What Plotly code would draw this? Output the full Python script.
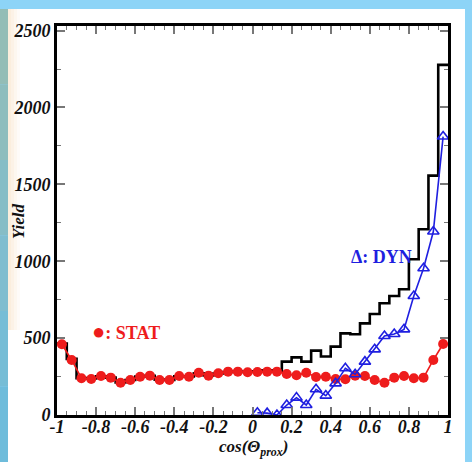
import plotly.graph_objects as go

# ---- data ----
bin_left = [-1.0, -0.95, -0.9, -0.85, -0.8, -0.75, -0.7, -0.65, -0.6, -0.55,
            -0.5, -0.45, -0.4, -0.35, -0.3, -0.25, -0.2, -0.15, -0.1, -0.05,
            0.0, 0.05, 0.1, 0.15, 0.2, 0.25, 0.3, 0.35, 0.4, 0.45,
            0.5, 0.55, 0.6, 0.65, 0.7, 0.75, 0.8, 0.85, 0.9, 0.95]
bin_right_edge = 1.0
bin_center = [-0.975, -0.925, -0.875, -0.825, -0.775, -0.725, -0.675, -0.625, -0.575, -0.525,
              -0.475, -0.425, -0.375, -0.325, -0.275, -0.225, -0.175, -0.125, -0.075, -0.025,
              0.025, 0.075, 0.125, 0.175, 0.225, 0.275, 0.325, 0.375, 0.425, 0.475,
              0.525, 0.575, 0.625, 0.675, 0.725, 0.775, 0.825, 0.875, 0.925, 0.975]

total_yield = [465, 365, 240, 238, 252, 243, 212, 228, 250, 255,
               230, 228, 252, 250, 272, 258, 270, 280, 282, 280,
               285, 290, 285, 347, 375, 347, 419, 380, 445, 531,
               525, 596, 657, 727, 774, 818, 1013, 1208, 1557, 2277]

stat_yield = [460, 358, 239, 234, 254, 243, 210, 228, 249, 256,
              228, 228, 254, 249, 275, 256, 271, 282, 282, 278,
              280, 282, 282, 267, 258, 275, 247, 249, 234, 232,
              256, 254, 228, 210, 243, 254, 239, 243, 358, 462]

dyn_center = [0.025, 0.075, 0.125, 0.175, 0.225, 0.275, 0.325, 0.375, 0.425, 0.475,
              0.525, 0.575, 0.625, 0.675, 0.725, 0.775, 0.825, 0.875, 0.925, 0.975]
dyn_yield = [15, 12, 0, 65, 113, 65, 167, 126, 206, 304,
             265, 347, 427, 514, 527, 557, 774, 954, 1193, 1811]

x_ticks = [-1, -0.8, -0.6, -0.4, -0.2, 0, 0.2, 0.4, 0.6, 0.8, 1]
x_ticklabels = ["-1", "-0.8", "-0.6", "-0.4", "-0.2", "0", "0.2", "0.4", "0.6", "0.8", "1"]
y_ticks = [0, 500, 1000, 1500, 2000, 2500]
y_ticklabels = ["0", "500", "1000", "1500", "2000", "2500"]

RED = "#ee1c1c"
BLUE = "#1f1fe0"
SERIF = "Liberation Serif"

fig = go.Figure()

# total histogram (step)
fig.add_trace(go.Scatter(
    x=bin_left + [bin_right_edge], y=total_yield + [total_yield[-1]],
    mode="lines", line=dict(shape="hv", color="black", width=2.6),
    hoverinfo="skip", showlegend=False))

# STAT
fig.add_trace(go.Scatter(
    x=bin_center, y=stat_yield, mode="lines+markers",
    line=dict(color=RED, width=1.6),
    marker=dict(symbol="circle", size=10, color=RED),
    showlegend=False, cliponaxis=True))

# DYN
fig.add_trace(go.Scatter(
    x=dyn_center, y=dyn_yield, mode="lines+markers",
    line=dict(color=BLUE, width=1.6),
    marker=dict(symbol="triangle-up-open", size=10, color=BLUE, line=dict(width=1.6, color=BLUE)),
    showlegend=False, cliponaxis=True))

axis_font = dict(family=SERIF, size=18, color="#111", weight="bold", style="italic")

fig.update_xaxes(
    range=[-1, 1], tickvals=x_ticks, ticktext=x_ticklabels,
    ticks="inside", ticklen=8, tickwidth=1.5, tickcolor="#777",
    minor=dict(dtick=0.05, tick0=-1, ticks="inside", ticklen=4, tickwidth=1.2, tickcolor="#777"),
    showline=True, linecolor="black", linewidth=3, mirror="allticks",
    showgrid=False, zeroline=False, tickfont=axis_font, automargin=False, ticklabelstandoff=-7)

fig.update_yaxes(
    range=[0, 2530], tickvals=y_ticks, ticktext=y_ticklabels,
    ticks="inside", ticklen=8, tickwidth=1.5, tickcolor="#777",
    minor=dict(dtick=250, tick0=0, ticks="inside", ticklen=4, tickwidth=1.2, tickcolor="#777"),
    showline=True, linecolor="black", linewidth=3, mirror="allticks",
    showgrid=False, zeroline=False, tickfont=axis_font, automargin=False, ticklabelstandoff=0)

# pixel geometry converted to paper fractions
L, R, T, B = 57, 448, 26, 415
W, H = R - L, B - T
def px(x): return (x - L) / W
def py(y): return (B - y) / H

fig.add_annotation(x=px(18), y=py(222), xref="paper", yref="paper", xanchor="center", yanchor="middle",
                   text="Yield", textangle=-90, showarrow=False,
                   font=dict(family=SERIF, size=17, color="#111", weight="bold", style="italic"))
fig.add_annotation(x=px(253), y=py(448), xref="paper", yref="paper", xanchor="center", yanchor="middle",
                   text="cos(Θ<sub>prox</sub>)", showarrow=False,
                   font=dict(family=SERIF, size=17, color="#111", weight="bold", style="italic"))

fig.add_annotation(x=-0.83, y=540, xref="x", yref="y", xanchor="left", yanchor="middle",
                   text="<span style='font-size:22px'>●</span>: STAT", showarrow=False,
                   font=dict(family=SERIF, size=18, color=RED, weight="bold"))
fig.add_annotation(x=0.495, y=1030, xref="x", yref="y", xanchor="left", yanchor="middle",
                   text="Δ: DYN", showarrow=False,
                   font=dict(family=SERIF, size=18, color=BLUE, weight="bold"))

shapes = []
shapes.append(dict(type="rect", xref="paper", yref="paper", x0=px(8), x1=px(465), y0=py(462), y1=py(9),
                   fillcolor="white", line=dict(width=0), layer="below"))
# left strip gradient approximation
strip_cols = ["#93bdb6", "#8dbdbd", "#86bdc6", "#7fbdcf", "#76bdd6", "#6ebcdb"]
n = len(strip_cols)
for i, c in enumerate(strip_cols):
    y0 = 9 + i * (462 - 9) / n
    y1 = 9 + (i + 1) * (462 - 9) / n
    shapes.append(dict(type="rect", xref="paper", yref="paper", x0=px(0), x1=px(8), y0=py(y1), y1=py(y0),
                       fillcolor=c, line=dict(width=0), layer="below"))
# beige fade inside left of panel
beige = ["#fbeedd", "#fcf2e6", "#fdf7ef", "#fefbf8"]
for i, c in enumerate(beige):
    shapes.append(dict(type="rect", xref="paper", yref="paper", x0=px(8 + i * 3), x1=px(11 + i * 3),
                       y0=py(330), y1=py(9), fillcolor=c, line=dict(width=0), layer="below"))

fig.update_layout(
    width=472, height=462,
    margin=dict(l=L, r=472 - R, t=T, b=462 - B, pad=0),
    paper_bgcolor="#8dd4f7", plot_bgcolor="white",
    shapes=shapes, showlegend=False)

fig.write_html("out.html", config={"displayModeBar": False},
               post_script="document.body.style.margin='0';document.body.style.overflow='hidden';")
